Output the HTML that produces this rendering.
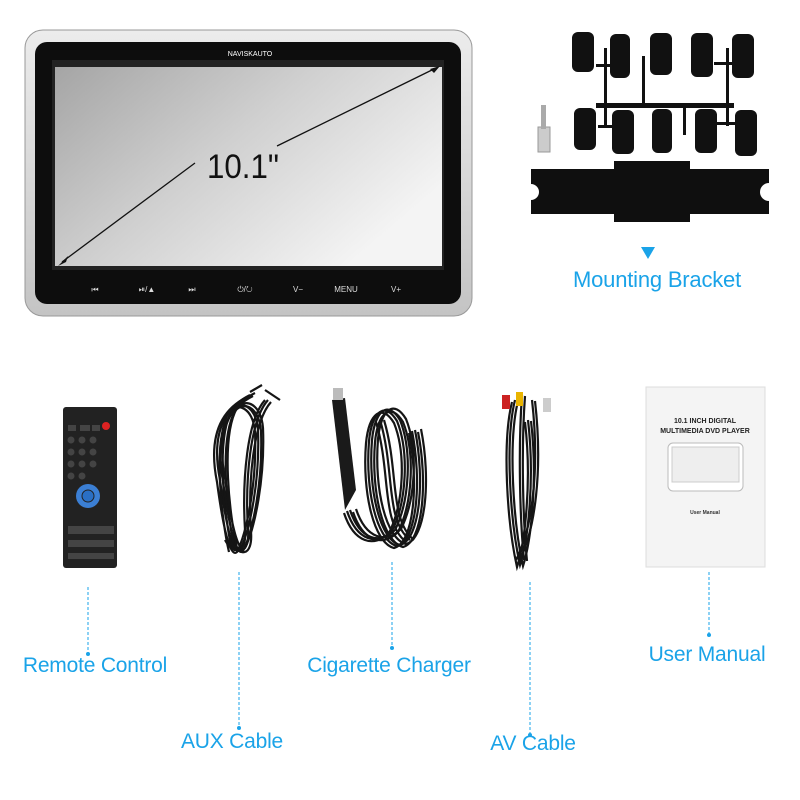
<!DOCTYPE html>
<html><head><meta charset="utf-8"><style>
html,body{margin:0;padding:0;background:#fff;}
body{width:800px;height:800px;position:relative;overflow:hidden;font-family:"Liberation Sans",sans-serif;}
.lbl{position:absolute;color:#1aa3e8;font-size:21px;white-space:nowrap;transform:translateX(-50%);letter-spacing:-0.2px}
</style></head><body>
<svg width="800" height="800" style="position:absolute;left:0;top:0">
<defs>
<linearGradient id="scr" x1="0" y1="0" x2="1" y2="0.6">
<stop offset="0" stop-color="#a5a5a5"/><stop offset="0.5" stop-color="#d0d0d0"/><stop offset="1" stop-color="#f4f4f4"/>
</linearGradient>
<linearGradient id="sil" x1="0" y1="0" x2="0" y2="1">
<stop offset="0" stop-color="#ececec"/><stop offset="1" stop-color="#c4c4c4"/>
</linearGradient>
<path id="aux" d="M250,395 C220,410 212,440 220,480 C228,540 235,555 240,550 C250,530 260,480 258,430 C256,405 240,400 232,410 C215,440 225,520 232,550"/>
<path id="aux2" d="M268,400 C250,420 245,480 248,530 C250,555 236,555 228,540"/>
<path id="cig" d="M350,510 C360,540 380,545 395,530 C410,500 412,450 400,420 C388,400 375,410 372,440 C368,490 380,540 400,545 C420,540 425,480 415,430"/>
<path id="cig2" d="M380,420 C395,470 385,520 410,540"/>
<path id="av" d="M515,400 C505,440 510,520 520,565 C528,540 535,480 528,420"/>
<path id="av2" d="M522,395 C518,450 520,520 524,560 M532,400 C540,470 532,530 516,560"/>
</defs>
<!-- monitor -->
<rect x="25" y="30" width="447" height="286" rx="18" fill="url(#sil)" stroke="#999"/>
<rect x="35" y="42" width="426" height="262" rx="12" fill="#0d0d0d"/>
<rect x="52" y="60" width="392" height="210" fill="#222"/>
<rect x="55" y="67" width="387" height="199" fill="url(#scr)"/>
<text x="250" y="56" font-size="7" fill="#fff" text-anchor="middle">NAVISKAUTO</text>
<line x1="62" y1="262" x2="195" y2="163" stroke="#111" stroke-width="1.3"/>
<line x1="277" y1="146" x2="436" y2="68" stroke="#111" stroke-width="1.3"/>
<polygon points="58,266 68,256 66,262" fill="#111"/>
<polygon points="440,66 430,69 434,73" fill="#111"/>
<text x="243" y="178" font-size="34" fill="#111" text-anchor="middle" textLength="72" lengthAdjust="spacingAndGlyphs">10.1"</text>
<g fill="#ddd" font-size="8" text-anchor="middle">
<text x="95" y="292">⏮</text><text x="147" y="292">⏯/▲</text><text x="192" y="292">⏭</text>
<text x="245" y="292">⏻/↻</text><text x="298" y="292">V−</text><text x="346" y="292">MENU</text><text x="396" y="292">V+</text>
</g>
<!-- clips -->
<g fill="#111">
<rect x="572" y="32" width="22" height="40" rx="6"/><rect x="610" y="34" width="20" height="44" rx="6"/>
<rect x="650" y="33" width="22" height="42" rx="6"/><rect x="691" y="33" width="22" height="44" rx="6"/>
<rect x="732" y="34" width="22" height="44" rx="6"/>
<rect x="574" y="108" width="22" height="42" rx="6"/><rect x="612" y="110" width="22" height="44" rx="6"/>
<rect x="652" y="109" width="20" height="44" rx="6"/><rect x="695" y="109" width="22" height="44" rx="6"/>
<rect x="735" y="110" width="22" height="46" rx="6"/>
<rect x="598" y="125" width="16" height="3"/><rect x="716" y="122" width="20" height="3"/>
<rect x="596" y="64" width="14" height="3"/><rect x="714" y="62" width="20" height="3"/>
<rect x="596" y="103" width="138" height="5"/>
<rect x="604" y="48" width="3" height="78"/><rect x="642" y="56" width="3" height="52"/>
<rect x="683" y="105" width="3" height="30"/><rect x="726" y="48" width="3" height="78"/>
</g>
<rect x="538" y="127" width="12" height="25" fill="#ccc" stroke="#999"/>
<rect x="541" y="105" width="5" height="24" fill="#aaa"/>
<!-- bracket -->
<path d="M531,169 H614 V161 H690 V169 H769 V214 H690 V222 H614 V214 H531 V200 A8,8 0 0 0 531,184 Z" fill="#0f0f0f"/>
<path d="M769,183 A9,9 0 0 0 769,201 Z" fill="#fff"/>
<polygon points="641,247 655,247 648,259" fill="#1aa3e8"/>
</svg>
<div class="lbl" style="left:657px;top:267px;font-size:22px">Mounting Bracket</div>
<svg width="800" height="800" style="position:absolute;left:0;top:0">
<!-- remote -->
<rect x="63" y="407" width="54" height="161" rx="3" fill="#222"/>
<g fill="#444">
<rect x="68" y="425" width="8" height="6"/><rect x="80" y="425" width="10" height="6"/><rect x="92" y="425" width="8" height="6"/>
<circle cx="71" cy="440" r="3.5"/><circle cx="82" cy="440" r="3.5"/><circle cx="93" cy="440" r="3.5"/>
<circle cx="71" cy="452" r="3.5"/><circle cx="82" cy="452" r="3.5"/><circle cx="93" cy="452" r="3.5"/>
<circle cx="71" cy="464" r="3.5"/><circle cx="82" cy="464" r="3.5"/><circle cx="93" cy="464" r="3.5"/>
<circle cx="71" cy="476" r="3.5"/><circle cx="82" cy="476" r="3.5"/>
<rect x="68" y="526" width="46" height="8"/><rect x="68" y="540" width="46" height="7"/><rect x="68" y="553" width="46" height="6"/>
</g>
<circle cx="106" cy="426" r="4" fill="#d22"/>
<circle cx="88" cy="496" r="12" fill="#3b7fd4"/><circle cx="88" cy="496" r="6" fill="#2a6fc4" stroke="#222"/>
<!-- cables -->
<g fill="none" stroke="#151515" stroke-width="2.2">
<use href="#aux"/><use href="#aux" transform="translate(3,1)"/><use href="#aux" transform="translate(-3,2)"/><use href="#aux" transform="translate(5,-2)"/>
<use href="#aux2"/><use href="#aux2" transform="translate(3,2)"/><use href="#aux2" transform="translate(-3,0)"/>
<path d="M265,390 L280,400 M250,392 L262,385"/>
<use href="#cig"/><use href="#cig" transform="translate(3,2)"/><use href="#cig" transform="translate(-3,1)"/><use href="#cig" transform="translate(6,-1)"/><use href="#cig" transform="translate(-6,3)"/>
<use href="#cig2"/><use href="#cig2" transform="translate(4,0)"/><use href="#cig2" transform="translate(-4,2)"/>
<use href="#av"/><use href="#av" transform="translate(3,1)"/><use href="#av" transform="translate(-3,2)"/>
<use href="#av2"/><use href="#av2" transform="translate(3,1)"/>
</g>
<path d="M332,400 L345,398 L356,490 L345,510 Z" fill="#1a1a1a"/>
<rect x="333" y="388" width="10" height="12" fill="#bbb"/>
<rect x="502" y="395" width="8" height="14" fill="#c22"/><rect x="516" y="392" width="7" height="14" fill="#e9b400"/><rect x="543" y="398" width="8" height="14" fill="#ccc"/>
<!-- manual -->
<rect x="646" y="387" width="119" height="180" fill="#f4f4f4" stroke="#ddd"/>
<text x="705" y="423" font-size="7" font-weight="bold" text-anchor="middle" fill="#222">10.1 INCH DIGITAL</text>
<text x="705" y="433" font-size="7" font-weight="bold" text-anchor="middle" fill="#222">MULTIMEDIA DVD PLAYER</text>
<rect x="668" y="443" width="75" height="48" rx="5" fill="#fff" stroke="#bbb"/>
<rect x="672" y="447" width="67" height="35" fill="#eee" stroke="#ccc"/>
<text x="705" y="514" font-size="5" font-weight="bold" text-anchor="middle" fill="#333">User Manual</text>
<!-- dashed leaders -->
<g stroke="#1aa3e8" stroke-width="1" stroke-dasharray="3,2">
<line x1="88" y1="587" x2="88" y2="653"/><line x1="239" y1="572" x2="239" y2="727"/>
<line x1="392" y1="562" x2="392" y2="647"/><line x1="530" y1="582" x2="530" y2="735"/>
<line x1="709" y1="572" x2="709" y2="635"/>
</g>
<g fill="#1aa3e8">
<circle cx="88" cy="654" r="2"/><circle cx="239" cy="728" r="2"/><circle cx="392" cy="648" r="2"/><circle cx="530" cy="735" r="2"/><circle cx="709" cy="635" r="2"/>
</g>
</svg>
<div class="lbl" style="left:95px;top:654px">Remote Control</div>
<div class="lbl" style="left:232px;top:730px">AUX Cable</div>
<div class="lbl" style="left:389px;top:654px">Cigarette Charger</div>
<div class="lbl" style="left:533px;top:732px">AV Cable</div>
<div class="lbl" style="left:707px;top:643px">User Manual</div>
</body></html>
